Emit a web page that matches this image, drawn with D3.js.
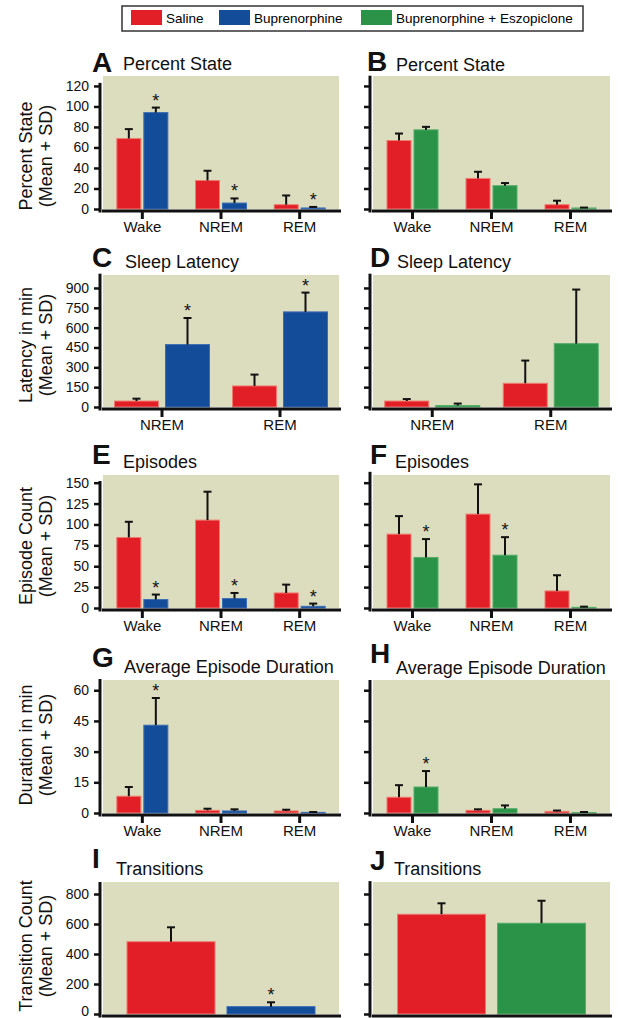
<!DOCTYPE html>
<html>
<head>
<meta charset="utf-8">
<script src="https://cdn.jsdelivr.net/npm/d3@7"></script>
<style>
  body { margin: 0; background: #fff; }
  svg { display: block; font-family: "Liberation Sans", Arial, sans-serif; }
</style>
</head>
<body>
<svg id="chart" width="618" height="1018"></svg>
<script>
// categories
const stages = ["Wake", "NREM", "REM"];
const sleepStages = ["NREM", "REM"];
const groupNames = ["Saline", "Buprenorphine", "Buprenorphine + Eszopiclone"];

// A / B  percent state
const pctSalA = [68.7, 27.8, 4.2], pctSalSdA = [9.2, 9.5, 9.0];
const pctBup = [94.0, 5.8, 1.0], pctBupSd = [4.9, 4.5, 1.0];
const pctSalB = [66.8, 29.8, 4.2], pctSalSdB = [6.8, 6.5, 3.9];
const pctEsz = [77.2, 22.7, 1.0], pctEszSd = [2.9, 2.6, 0.4];
// C / D  sleep latency
const latSalC = [45, 159], latSalSdC = [18, 86];
const latBup = [472, 719], latBupSd = [201, 146];
const latSalD = [45, 179], latSalSdD = [15, 172];
const latEsz = [11, 479], latEszSd = [15, 409];
// E / F  episodes
const epiSalE = [84.4, 105.2, 18.0], epiSalSdE = [18.8, 34.0, 10.0];
const epiBup = [10.1, 11.3, 2.0], epiBupSd = [6.0, 6.7, 3.3];
const epiSalF = [88.4, 112.4, 20.4], epiSalSdF = [21.6, 35.6, 18.8];
const epiEsz = [60.5, 63.2, 0.8], epiEszSd = [22.0, 21.6, 0.8];
// G / H  average episode duration
const durSalG = [8.2, 1.3, 1.0], durSalSdG = [4.5, 0.8, 0.6];
const durBup = [42.9, 1.0, 0.3], durBupSd = [13.3, 0.8, 0.2];
const durSalH = [7.7, 1.3, 0.8], durSalSdH = [5.9, 0.5, 0.4];
const durEsz = [12.7, 2.1, 0.2], durEszSd = [7.8, 1.6, 0.3];
// I / J  transitions
const trnSalI = [482], trnSalSdI = [96];
const trnBup = [49], trnBupSd = [29];
const trnSalJ = [665], trnSalSdJ = [73];
const trnEsz = [605], trnEszSd = [150];

// tick labels
const pctTicks = [0, 20, 40, 60, 80, 100, 120];
const latTicks = [0, 150, 300, 450, 600, 750, 900];
const epiTicks = [0, 25, 50, 75, 100, 125, 150];
const durTicks = [0, 15, 30, 45, 60];
const trnTicks = [0, 200, 400, 600, 800];

// significance markers on the treated bar
const sigA = [1, 1, 1], sigB = [0, 0, 0];
const sigC = [1, 1], sigD = [0, 0];
const sigE = [1, 1, 1], sigF = [1, 1, 0];
const sigG = [1, 0, 0], sigH = [1, 0, 0];
const sigI = [1], sigJ = [0];

const colors = { Saline: "#e21f26", Buprenorphine: "#134c99", "Buprenorphine + Eszopiclone": "#2a9347" };
const edges = { Saline: "#f07a6e", Buprenorphine: "#3a6db5", "Buprenorphine + Eszopiclone": "#55ad6a" };

const svg = d3.select("#chart");

// legend
const leg = svg.append("g");
leg.append("rect").attr("x", 122).attr("y", 6).attr("width", 461).attr("height", 25)
  .attr("fill", "#fff").attr("stroke", "#333").attr("stroke-width", 1.5);
const legX = [131, 219, 361];
groupNames.forEach((g, i) => {
  leg.append("rect").attr("x", legX[i]).attr("y", 10).attr("width", 31).attr("height", 15)
    .attr("fill", colors[g]);
  leg.append("text").attr("x", legX[i] + 35).attr("y", 23).attr("font-size", 13.5).text(g);
});

const cols = [{ left: 103, right: 339 }, { left: 373, right: 610 }];
const rows = [
  { top: 76, h: 133, yTop: 129.7 },
  { top: 275, h: 132, yTop: 998 },
  { top: 475, h: 133, yTop: 159.2 },
  { top: 680, h: 133, yTop: 65 },
  { top: 882, h: 132, yTop: 880 }
];

const panels = [
  { id: "A", row: 0, col: 0, title: "Percent State", cats: stages, ticks: pctTicks, axisTop: 123,
    series: [["Saline", pctSalA, pctSalSdA], ["Buprenorphine", pctBup, pctBupSd]], sig: sigA,
    ytitle: ["Percent State", "(Mean + SD)"], yc: 156, lt: [92, 72], tt: [123, 70] },
  { id: "B", row: 0, col: 1, title: "Percent State", cats: stages, ticks: pctTicks, axisTop: 130,
    series: [["Saline", pctSalB, pctSalSdB], ["Buprenorphine + Eszopiclone", pctEsz, pctEszSd]], sig: sigB,
    lt: [367, 71], tt: [396, 71] },
  { id: "C", row: 1, col: 0, title: "Sleep Latency", cats: sleepStages, ticks: latTicks, axisTop: 1008,
    series: [["Saline", latSalC, latSalSdC], ["Buprenorphine", latBup, latBupSd]], sig: sigC,
    ytitle: ["Latency in min", "(Mean + SD)"], yc: 345, lt: [92, 267], tt: [125, 268] },
  { id: "D", row: 1, col: 1, title: "Sleep Latency", cats: sleepStages, ticks: latTicks, axisTop: 1008,
    series: [["Saline", latSalD, latSalSdD], ["Buprenorphine + Eszopiclone", latEsz, latEszSd]], sig: sigD,
    lt: [370, 267], tt: [397, 268] },
  { id: "E", row: 2, col: 0, title: "Episodes", cats: stages, ticks: epiTicks, axisTop: 152,
    series: [["Saline", epiSalE, epiSalSdE], ["Buprenorphine", epiBup, epiBupSd]], sig: sigE,
    ytitle: ["Episode Count", "(Mean + SD)"], yc: 546, lt: [92, 464], tt: [123, 468] },
  { id: "F", row: 2, col: 1, title: "Episodes", cats: stages, ticks: epiTicks, axisTop: 163,
    series: [["Saline", epiSalF, epiSalSdF], ["Buprenorphine + Eszopiclone", epiEsz, epiEszSd]], sig: sigF,
    lt: [370, 464], tt: [395, 468] },
  { id: "G", row: 3, col: 0, title: "Average Episode Duration", cats: stages, ticks: durTicks, axisTop: 65.5,
    series: [["Saline", durSalG, durSalSdG], ["Buprenorphine", durBup, durBupSd]], sig: sigG,
    ytitle: ["Duration in min", "(Mean + SD)"], yc: 745, lt: [92, 667], tt: [124, 673] },
  { id: "H", row: 3, col: 1, title: "Average Episode Duration", cats: stages, ticks: durTicks, axisTop: 65,
    series: [["Saline", durSalH, durSalSdH], ["Buprenorphine + Eszopiclone", durEsz, durEszSd]], sig: sigH,
    lt: [370, 663], tt: [396, 674] },
  { id: "I", row: 4, col: 0, title: "Transitions", cats: [""], ticks: trnTicks, axisTop: 880,
    series: [["Saline", trnSalI, trnSalSdI], ["Buprenorphine", trnBup, trnBupSd]], sig: sigI,
    ytitle: ["Transition Count", "(Mean + SD)"], yc: 946, lt: [92, 868], tt: [116, 875] },
  { id: "J", row: 4, col: 1, title: "Transitions", cats: [""], ticks: trnTicks, axisTop: 886,
    series: [["Saline", trnSalJ, trnSalSdJ], ["Buprenorphine + Eszopiclone", trnEsz, trnEszSd]], sig: sigJ,
    lt: [370, 870], tt: [394, 875] }
];

// bar width / gap depending on how many groups the panel has
const barSpec = { 3: { w: 51, pad: 0.111 }, 2: { w: 95, pad: 0.137 }, 1: { w: 188, pad: 0.12 } };

panels.forEach(p => {
  const r = rows[p.row], c = cols[p.col];
  const zeroY = r.top + r.h;
  const g = svg.append("g");

  g.append("rect").attr("x", c.left).attr("y", r.top)
    .attr("width", c.right - c.left).attr("height", r.h).attr("fill", "#dcdcbe");

  const y = d3.scaleLinear().domain([0, r.yTop]).range([zeroY, r.top]);
  const x0 = d3.scaleBand().domain(p.cats).range([c.left, c.right]);
  const spec = barSpec[p.cats.length];
  const x1 = d3.scaleBand().domain(p.series.map(s => s[0]))
    .range([-spec.w / 2, spec.w / 2]).paddingInner(spec.pad);

  // bars
  p.series.forEach((s, si) => {
    const [name, vals, sds] = s;
    const cx = i => x0(p.cats[i]) + x0.bandwidth() / 2 + x1(name);
    g.selectAll(null).data(vals).enter().append("rect")
      .attr("x", (d, i) => cx(i))
      .attr("y", d => y(d))
      .attr("width", x1.bandwidth())
      .attr("height", d => zeroY - y(d))
      .attr("fill", colors[name])
      .attr("stroke", edges[name]).attr("stroke-width", 1);
    // error bars (upper only)
    vals.forEach((v, i) => {
      const mx = cx(i) + x1.bandwidth() / 2;
      const top = y(v + sds[i]);
      g.append("line").attr("x1", mx).attr("x2", mx).attr("y1", y(v)).attr("y2", top)
        .attr("stroke", "#111").attr("stroke-width", 2);
      g.append("line").attr("x1", mx - 4).attr("x2", mx + 4).attr("y1", top).attr("y2", top)
        .attr("stroke", "#111").attr("stroke-width", 2);
      if (si === 1 && p.sig[i]) {
        g.append("text").attr("x", mx).attr("y", top - 1).attr("text-anchor", "middle")
          .attr("font-size", 18).attr("fill", "#111").text("*");
      }
    });
  });

  // y axis
  const yAxis = d3.axisLeft(y).tickValues(p.ticks).tickSize(6).tickSizeOuter(0).tickPadding(5)
    .tickFormat(p.col === 0 ? d3.format("d") : () => "");
  const ya = g.append("g").attr("transform", `translate(${c.left - 3},0)`).call(yAxis);
  ya.select(".domain").remove();
  ya.selectAll(".tick line").attr("stroke", "#111").attr("stroke-width", 2.5);
  ya.selectAll(".tick text").attr("font-size", 14).attr("fill", "#111")
    .attr("font-family", "Liberation Sans, Arial, sans-serif");
  // bottom row sits on the page edge: lift its zero label so it stays inside
  if (p.row === 4) ya.selectAll(".tick text").filter(d => d === 0).attr("dy", "0.1em");
  g.append("line").attr("x1", c.left - 3).attr("x2", c.left - 3)
    .attr("y1", y(p.axisTop)).attr("y2", zeroY + 3.5)
    .attr("stroke", "#111").attr("stroke-width", 3);

  // x axis
  g.append("line").attr("x1", c.left - 1).attr("x2", c.right + 2)
    .attr("y1", zeroY + 2).attr("y2", zeroY + 2)
    .attr("stroke", "#111").attr("stroke-width", 3);
  if (p.cats.length > 1) {
    const xAxis = d3.axisBottom(x0).tickSize(7).tickSizeOuter(0).tickPadding(2.5);
    const xa = g.append("g").attr("transform", `translate(0,${zeroY + 3})`).call(xAxis);
    xa.select(".domain").remove();
    xa.selectAll(".tick line").attr("stroke", "#111").attr("stroke-width", 3);
    xa.selectAll(".tick text").attr("font-size", 15).attr("fill", "#111")
      .attr("font-family", "Liberation Sans, Arial, sans-serif");
  }

  // panel letter + title
  g.append("text").attr("x", p.lt[0]).attr("y", p.lt[1]).attr("font-size", 28)
    .attr("font-weight", "bold").attr("fill", "#111").text(p.id);
  g.append("text").attr("x", p.tt[0]).attr("y", p.tt[1]).attr("font-size", 18)
    .attr("fill", "#111").text(p.title);

  // y title
  if (p.ytitle) {
    p.ytitle.forEach((t, k) => {
      g.append("text").attr("transform", `translate(${32 + k * 20},${p.yc}) rotate(-90)`)
        .attr("text-anchor", "middle").attr("font-size", 18).attr("fill", "#111").text(t);
    });
  }
});
</script>
</body>
</html>
